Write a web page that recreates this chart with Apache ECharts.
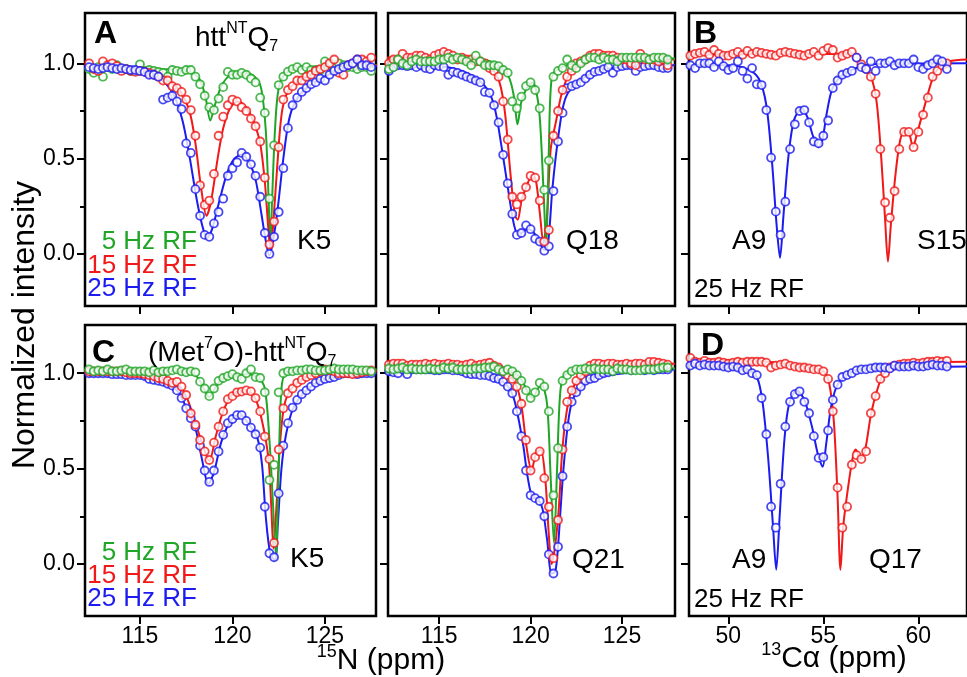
<!DOCTYPE html>
<html>
<head>
<meta charset="utf-8">
<script src="https://cdn.jsdelivr.net/npm/echarts@6/dist/echarts.min.js"></script>
<style>
  html, body { margin: 0; padding: 0; background: #fff; }
  #chart { width: 967px; height: 677px; }
</style>
</head>
<body>
<div id="chart"></div>
<script>
// ---- saturation offsets (ppm) ----
const n15Offsets = [
  112.25, 112.5, 112.75, 113, 113.25, 113.5, 113.75, 114, 114.25, 114.5, 114.75, 115,
  115.25, 115.5, 115.75, 116, 116.25, 116.5, 116.75, 117, 117.25, 117.5, 117.75, 118,
  118.25, 118.5, 118.75, 119, 119.25, 119.5, 119.75, 120, 120.25, 120.5, 120.75, 121,
  121.25, 121.5, 121.75, 122, 122.25, 122.5, 122.75, 123, 123.25, 123.5, 123.75, 124,
  124.25, 124.5, 124.75, 125, 125.25, 125.5, 125.75, 126, 126.25, 126.5, 126.75, 127,
  127.25, 127.5
];
const c13Offsets = [
  48, 48.25, 48.5, 48.75, 49, 49.25, 49.5, 49.75, 50, 50.25, 50.5, 50.75,
  51, 51.25, 51.5, 51.75, 52, 52.25, 52.5, 52.75, 53, 53.25, 53.5, 53.75,
  54, 54.25, 54.5, 54.75, 55, 55.25, 55.5, 55.75, 56, 56.25, 56.5, 56.75,
  57, 57.25, 57.5, 57.75, 58, 58.25, 58.5, 58.75, 59, 59.25, 59.5, 59.75,
  60, 60.25, 60.5, 60.75, 61, 61.25, 61.5
];

// ---- tick values ----
const n15Ticks = [115, 120, 125];
const c13Ticks = [50, 55, 60];
const intensityTicks = [0, 0.5, 1.0];
const intensityMinorTicks = [0.25, 0.75];

// ---- httNTQ7, K5 (15N) ----
const httK5_5Hz = [
  0.97, 0.95, 0.98, 0.93, 0.98, 0.97, 0.99, 0.97, 0.97, 0.96, 0.96, 0.995,
  0.96, 0.965, 0.96, 0.955, 0.95, 0.93, 0.965, 0.96, 0.955, 0.965, 0.965, 0.93,
  0.89, 0.83, 0.77, 0.755, 0.815, 0.875, 0.955, 0.94, 0.94, 0.95, 0.94, 0.92,
  0.90, 0.82, 0.74, 0.29, 0.57, 0.886, 0.93, 0.956, 0.97, 0.98, 0.965, 0.98,
  0.965, 0.965, 0.965, 1.01, 0.99, 0.98, 1.0, 0.99, 0.98, 0.98, 0.97, 0.98,
  0.98, 0.96
];
const httK5_15Hz = [
  1.0, 0.97, 0.96, 1.01, 0.99, 1.0, 0.985, 0.96, 0.97, 0.96, 0.955, 0.96,
  0.955, 0.95, 0.94, 0.93, 0.91, 0.91, 0.88, 0.87, 0.85, 0.81, 0.755, 0.62,
  0.36, 0.257, 0.28, 0.42, 0.62, 0.72, 0.78, 0.81, 0.80, 0.77, 0.75, 0.71,
  0.67, 0.59, 0.40, 0.05, 0.17, 0.56, 0.81, 0.86, 0.88, 0.91, 0.91, 0.93,
  0.94, 0.96, 0.97, 0.98, 1.0, 1.02, 0.95, 0.94, 0.99, 1.0, 1.02, 1.02,
  1.01, 1.03
];
const httK5_25Hz = [
  0.98, 0.975, 0.97, 0.975, 0.98, 0.975, 0.97, 0.975, 0.97, 0.965, 0.965, 0.96,
  0.955, 0.94, 0.94, 0.93, 0.81, 0.82, 0.83, 0.80, 0.76, 0.58, 0.53, 0.34,
  0.20, 0.10, 0.09, 0.16, 0.22, 0.29, 0.41, 0.45, 0.48, 0.53, 0.51, 0.47,
  0.41, 0.30, 0.11, 0.0, 0.09, 0.22, 0.45, 0.66, 0.78, 0.82, 0.85, 0.87,
  0.89, 0.90, 0.92, 0.91, 0.94, 0.96, 0.97, 0.98, 0.99, 1.0, 1.02, 0.99,
  0.99, 0.98
];
const httK5_5HzFit = [[112,0.975],[114,0.975],[116,0.97],[117.5,0.96],[118.2,0.92],[118.55,0.82],[118.8,0.70],[119.05,0.78],[119.4,0.88],[119.9,0.94],[120.6,0.95],[121.2,0.93],[121.55,0.87],[121.8,0.65],[121.95,0.3],[122.05,0.04],[122.15,0.3],[122.3,0.65],[122.5,0.87],[122.9,0.95],[123.8,0.975],[125,0.985],[127.8,0.99]];
const httK5_15HzFit = [[112,0.99],[114,0.975],[115.5,0.95],[116.5,0.91],[117.2,0.85],[117.7,0.74],[118.0,0.58],[118.3,0.35],[118.6,0.2],[118.85,0.28],[119.2,0.5],[119.5,0.66],[119.9,0.77],[120.3,0.8],[120.8,0.76],[121.2,0.68],[121.5,0.58],[121.75,0.38],[121.95,0.12],[122.06,0.02],[122.2,0.15],[122.45,0.5],[122.7,0.76],[123.1,0.87],[123.8,0.92],[124.8,0.96],[126,0.985],[127.8,0.99]];
const httK5_25HzFit = [[112,0.98],[114,0.975],[115.3,0.955],[116.2,0.91],[116.8,0.84],[117.3,0.7],[117.7,0.5],[118.1,0.27],[118.45,0.12],[118.65,0.09],[118.9,0.13],[119.3,0.28],[119.7,0.42],[120.1,0.5],[120.5,0.52],[120.9,0.48],[121.25,0.39],[121.55,0.22],[121.8,0.07],[122.0,-0.01],[122.2,0.07],[122.45,0.24],[122.75,0.5],[123.05,0.7],[123.4,0.8],[124,0.87],[125,0.93],[126,0.97],[127.8,0.985]];

// ---- httNTQ7, Q18 (15N) ----
const httQ18_5Hz = [
  0.97, 0.98, 1.02, 1.0, 0.99, 1.01, 1.02, 1.01, 1.01, 1.01, 1.01, 1.02,
  1.02, 1.03, 1.02, 1.03, 1.02, 1.01, 0.99, 1.04, 1.01, 0.99, 0.99, 0.99,
  0.985, 0.965, 0.95, 0.80, 0.764, 0.825, 0.88, 0.90, 0.86, 0.764, 0.336, 0.49,
  0.93, 0.96, 0.975, 1.02, 0.99, 0.975, 1.0, 1.02, 1.03, 1.03, 1.02, 1.03,
  1.02, 1.02, 1.01, 1.03, 1.03, 1.03, 1.03, 1.03, 1.03, 1.02, 1.03, 1.03,
  1.03, 1.02
];
const httQ18_15Hz = [
  1.0, 1.02, 1.02, 1.05, 1.03, 1.03, 1.04, 1.04, 1.03, 1.02, 1.04, 1.05,
  1.06, 1.05, 1.04, 1.02, 1.03, 1.02, 1.02, 1.01, 1.01, 1.0, 0.975, 0.96,
  0.93, 0.80, 0.60, 0.30, 0.26, 0.30, 0.35, 0.41, 0.40, 0.28, 0.065, 0.126,
  0.62, 0.75, 0.86, 0.93, 0.96, 1.0, 1.01, 1.02, 1.04, 1.05, 1.05, 1.04,
  1.04, 1.04, 1.03, 1.02, 1.02, 1.0, 0.99, 1.05, 1.02, 1.02, 1.02, 1.01,
  1.02, 0.99
];
const httQ18_25Hz = [
  0.96, 0.98, 0.99, 0.99, 0.985, 0.99, 0.98, 0.99, 0.975, 0.97, 0.99, 0.985,
  0.98, 0.94, 0.955, 0.95, 0.94, 0.93, 0.92, 0.91, 0.90, 0.85, 0.845, 0.78,
  0.69, 0.52, 0.37, 0.21, 0.10, 0.11, 0.15, 0.13, 0.08, 0.065, 0.017, 0.04,
  0.33, 0.59, 0.74, 0.87, 0.88, 0.89, 0.90, 0.92, 0.94, 0.955, 0.96, 0.97,
  0.98, 0.95, 0.98, 0.985, 0.99, 0.99, 0.96, 0.98, 0.985, 0.99, 0.99, 0.98,
  0.975, 0.975
];
const httQ18_5HzFit = [[112,1.02],[117.3,1.02],[118.2,0.99],[118.8,0.93],[119.1,0.82],[119.28,0.68],[119.5,0.8],[119.8,0.87],[120.1,0.9],[120.3,0.86],[120.5,0.72],[120.7,0.35],[120.85,0.05],[121.0,0.55],[121.15,0.92],[121.5,0.97],[122.3,1.0],[123,1.02],[127.9,1.025]];
const httQ18_15HzFit = [[112,1.03],[117,1.02],[117.8,0.98],[118.3,0.9],[118.6,0.74],[118.9,0.42],[119.15,0.2],[119.3,0.18],[119.5,0.28],[119.8,0.36],[120.1,0.42],[120.3,0.38],[120.5,0.22],[120.7,0.06],[120.9,0.2],[121.1,0.55],[121.4,0.7],[121.7,0.84],[122.1,0.94],[122.8,1.0],[123.5,1.03],[127.9,1.02]];
const httQ18_25HzFit = [[112,0.99],[115,0.985],[116.5,0.95],[117.5,0.88],[118.0,0.78],[118.4,0.57],[118.8,0.32],[119.1,0.15],[119.35,0.1],[119.8,0.13],[120.1,0.12],[120.45,0.07],[120.75,0.02],[120.95,0.05],[121.2,0.35],[121.55,0.64],[121.85,0.8],[122.3,0.88],[123,0.93],[124,0.97],[127.9,0.99]];

// ---- httNTQ7, 13Ca at 25 Hz: A9 and S15 ----
const httA9 = [
  0.99, 0.975, 1.0, 1.0, 1.0, 0.98, 1.01, 0.985, 0.965, 0.975, 1.01, 0.96,
  0.92, 0.975, 0.89, 0.886, 0.755, 0.505, 0.222, 0.10, 0.274, 0.55, 0.68, 0.75,
  0.755, 0.69, 0.59, 0.58, 0.62, 0.70, 0.87, 0.91, 0.94, 0.95, 0.96, 1.03,
  0.98, 0.97, 1.01, 0.96, 1.0, 1.0, 1.01, 0.99, 1.0, 1.0, 1.0, 1.02,
  0.98, 0.97, 0.99, 1.0, 1.02, 1.01, 0.97
];
const httS15 = [
  1.04, 1.05, 1.055, 1.06, 1.045, 1.07, 1.05, 1.04, 1.04, 1.05, 1.06, 1.045,
  1.065, 1.05, 1.06, 1.055, 1.05, 1.045, 1.04, 1.055, 1.06, 1.055, 1.05, 1.045,
  1.04, 1.05, 1.06, 1.04, 1.065, 1.08, 1.07, 1.03, 1.04, 1.05, 1.06, 1.03,
  0.995, 0.97, 0.93, 0.84, 0.55, 0.27, 0.19, 0.33, 0.55, 0.64, 0.64, 0.56,
  0.64, 0.73, 0.82, 0.93, 0.96, 0.99, 1.0
];
const httA9Fit = [[47.9,0.99],[50,0.99],[51,0.97],[51.6,0.92],[52.0,0.78],[52.3,0.48],[52.55,0.14],[52.72,-0.02],[52.9,0.2],[53.15,0.5],[53.45,0.7],[53.85,0.76],[54.15,0.72],[54.45,0.62],[54.75,0.56],[54.95,0.6],[55.2,0.75],[55.45,0.86],[55.9,0.93],[56.6,0.97],[57.5,0.995],[62.6,1.0]];
const httS15Fit = [[47.9,1.045],[56.6,1.05],[57.0,1.0],[57.5,0.93],[57.8,0.8],[58.05,0.5],[58.25,0.18],[58.4,-0.04],[58.55,0.15],[58.8,0.42],[59.05,0.6],[59.3,0.65],[59.5,0.64],[59.72,0.56],[59.9,0.62],[60.15,0.71],[60.45,0.82],[60.75,0.92],[61.1,0.98],[61.6,1.01],[62.6,1.02]];

// ---- (Met7O)-httNTQ7, K5 (15N) ----
const metK5_5Hz = [
  1.02, 1.01, 1.015, 1.01, 1.02, 1.01, 1.01, 1.015, 1.02, 1.01, 1.01, 1.01,
  1.01, 1.005, 1.015, 1.005, 1.01, 1.01, 1.015, 1.02, 1.01, 1.005, 1.01, 1.005,
  0.956, 0.92, 0.88, 0.92, 0.96, 0.975, 0.985, 0.995, 0.98, 0.97, 1.0, 1.02,
  0.98, 0.975, 0.90, 0.44, 0.52, 0.90, 1.0, 1.01, 1.01, 1.015, 1.015, 1.02,
  1.02, 1.015, 1.015, 1.015, 1.02, 1.025, 1.02, 1.02, 1.02, 1.02, 1.015, 1.015,
  1.015, 1.01
];
const metK5_15Hz = [
  1.01, 1.01, 1.01, 1.01, 1.01, 1.01, 1.01, 1.01, 1.005, 1.0, 1.0, 1.0,
  0.995, 0.99, 0.985, 0.975, 0.97, 0.96, 0.95, 0.955, 0.93, 0.886, 0.79, 0.73,
  0.65, 0.59, 0.545, 0.636, 0.72, 0.80, 0.864, 0.88, 0.90, 0.904, 0.91, 0.905,
  0.87, 0.80, 0.668, 0.55, 0.11, 0.60, 0.816, 0.895, 0.92, 0.95, 0.965, 0.98,
  0.99, 1.0, 1.01, 1.02, 1.015, 1.01, 1.0, 1.0, 1.0, 0.995, 1.0, 1.005,
  1.01, 1.015
];
const metK5_25Hz = [
  1.0, 1.0, 1.0, 1.0, 1.0, 0.995, 0.995, 0.995, 0.99, 0.99, 0.99, 0.99,
  0.985, 0.97, 0.965, 0.96, 0.955, 0.945, 0.935, 0.91, 0.87, 0.816, 0.764, 0.72,
  0.62, 0.49, 0.43, 0.49, 0.59, 0.677, 0.738, 0.76, 0.78, 0.78, 0.75, 0.715,
  0.68, 0.61, 0.30, 0.056, 0.035, 0.37, 0.62, 0.738, 0.82, 0.86, 0.89, 0.91,
  0.93, 0.95, 0.96, 0.97, 0.975, 0.98, 0.99, 1.0, 1.0, 1.0, 0.995, 1.0,
  1.0, 1.0
];
const metK5_5HzFit = [[112,1.02],[117.6,1.01],[118.1,0.98],[118.45,0.92],[118.75,0.875],[119.05,0.92],[119.4,0.965],[120,0.985],[120.8,0.995],[121.4,0.975],[121.75,0.92],[122.0,0.65],[122.2,0.3],[122.35,0.04],[122.5,0.5],[122.65,0.92],[122.9,1.0],[124,1.015],[127.8,1.02]];
const metK5_15HzFit = [[112,1.01],[114.5,1.0],[116,0.975],[117,0.945],[117.5,0.88],[118,0.74],[118.4,0.62],[118.75,0.54],[119.1,0.67],[119.5,0.8],[120,0.89],[120.7,0.91],[121.2,0.875],[121.6,0.75],[121.95,0.55],[122.1,0.3],[122.22,0.08],[122.35,0.25],[122.55,0.6],[122.8,0.83],[123.2,0.92],[124,0.98],[125,1.01],[127.8,1.01]];
const metK5_25HzFit = [[112,1.0],[114.5,0.99],[116,0.96],[117,0.91],[117.5,0.82],[118,0.71],[118.35,0.55],[118.7,0.42],[119,0.48],[119.4,0.64],[119.9,0.75],[120.4,0.785],[120.9,0.73],[121.35,0.66],[121.6,0.52],[121.8,0.25],[122.05,0.05],[122.3,0.02],[122.45,0.2],[122.65,0.5],[122.9,0.68],[123.3,0.82],[124,0.91],[125,0.97],[127.8,1.0]];

// ---- (Met7O)-httNTQ7, Q21 (15N) ----
const metQ21_5Hz = [
  1.025, 1.02, 1.025, 1.03, 1.02, 1.025, 1.02, 1.02, 1.02, 1.025, 1.02, 1.02,
  1.03, 1.025, 1.03, 1.02, 1.02, 1.02, 1.02, 1.025, 1.025, 1.03, 1.03, 1.035,
  1.02, 1.01, 1.02, 1.01, 0.99, 0.96, 0.91, 0.87, 0.90, 0.95, 0.93, 0.80,
  0.36, 0.607, 0.96, 0.99, 1.01, 1.02, 1.02, 1.025, 1.02, 1.025, 1.02, 1.02,
  1.02, 1.01, 1.025, 1.02, 1.02, 1.015, 1.015, 1.015, 1.02, 1.02, 1.02, 1.025,
  1.03, 1.03
];
const metQ21_15Hz = [
  1.045, 1.05, 1.05, 1.05, 1.04, 1.045, 1.045, 1.045, 1.05, 1.045, 1.05, 1.045,
  1.045, 1.05, 1.045, 1.045, 1.04, 1.045, 1.05, 1.04, 1.045, 1.05, 1.055, 1.04,
  1.03, 1.01, 0.99, 0.97, 0.93, 0.84, 0.65, 0.49, 0.56, 0.59, 0.45, 0.30,
  0.03, 0.23, 0.60, 0.85, 0.91, 0.96, 0.99, 1.01, 1.04, 1.05, 1.05, 1.045,
  1.05, 1.05, 1.045, 1.045, 1.05, 1.045, 1.05, 1.05, 1.045, 1.06, 1.06, 1.055,
  1.05, 1.045
];
const metQ21_25Hz = [
  1.01, 1.005, 1.0, 1.02, 0.995, 1.02, 1.02, 1.02, 1.02, 1.02, 1.015, 1.015,
  1.02, 1.02, 1.015, 1.015, 1.01, 1.0, 0.995, 0.995, 0.99, 0.99, 0.985, 0.975,
  0.97, 0.955, 0.93, 0.895, 0.80, 0.67, 0.49, 0.36, 0.345, 0.33, 0.25, 0.05,
  -0.05, 0.09, 0.46, 0.72, 0.85, 0.90, 0.93, 0.96, 0.97, 0.975, 0.99, 1.0,
  1.005, 1.01, 1.015, 1.02, 1.02, 1.015, 1.02, 1.02, 1.015, 1.02, 1.015, 1.02,
  1.02, 1.02
];
const metQ21_5HzFit = [[112,1.025],[118,1.03],[118.8,1.01],[119.3,0.99],[119.6,0.95],[119.9,0.89],[120.1,0.87],[120.4,0.92],[120.6,0.94],[120.9,0.84],[121.1,0.45],[121.28,0.11],[121.45,0.5],[121.6,0.87],[121.8,0.98],[122.5,1.02],[127.9,1.025]];
const metQ21_15HzFit = [[112,1.045],[118,1.045],[118.7,1.0],[119.2,0.94],[119.5,0.83],[119.8,0.6],[120.05,0.49],[120.3,0.58],[120.55,0.6],[120.8,0.45],[121.0,0.15],[121.15,0.0],[121.35,0.1],[121.55,0.3],[121.7,0.55],[121.9,0.75],[122.2,0.9],[122.7,0.98],[123.3,1.04],[127.9,1.05]];
const metQ21_25HzFit = [[112,1.01],[116,1.015],[117.5,0.99],[118.5,0.955],[119,0.89],[119.3,0.78],[119.6,0.62],[119.85,0.45],[120.1,0.35],[120.4,0.34],[120.65,0.29],[120.9,0.13],[121.15,-0.05],[121.35,-0.04],[121.5,0.09],[121.65,0.3],[121.8,0.5],[122.05,0.74],[122.3,0.86],[122.8,0.93],[123.5,0.98],[127.9,1.02]];

// ---- (Met7O)-httNTQ7, 13Ca at 25 Hz: A9 and Q17 ----
const metA9 = [
  1.04, 1.05, 1.04, 1.045, 1.04, 1.04, 1.04, 1.035, 1.03, 1.035, 1.03, 1.015,
  1.02, 1.0, 0.99, 0.87, 0.68, 0.30, 0.19, 0.42, 0.72, 0.85, 0.89, 0.905,
  0.85, 0.79, 0.67, 0.556, 0.56, 0.70, 0.86, 0.94, 0.98, 0.99, 1.0, 1.015,
  1.02, 1.02, 1.025, 1.03, 1.03, 1.03, 1.025, 1.04, 1.035, 1.035, 1.035, 1.04,
  1.035, 1.035, 1.04, 1.045, 1.04, 1.04, 1.035
];
const metQ17 = [
  1.08, 1.06, 1.055, 1.065, 1.055, 1.055, 1.06, 1.055, 1.05, 1.055, 1.06, 1.055,
  1.06, 1.06, 1.06, 1.06, 1.055, 1.03, 1.04, 1.045, 1.05, 1.04, 1.035, 1.03,
  1.03, 1.025, 1.02, 1.02, 1.01, 0.97, 0.80, 0.40, 0.19, 0.30, 0.52, 0.57,
  0.55, 0.59, 0.79, 0.88, 0.97, 1.0, 1.03, 1.04, 1.045, 1.05, 1.05, 1.055,
  1.05, 1.055, 1.06, 1.06, 1.065, 1.06, 1.065
];
const metA9Fit = [[47.9,1.045],[50,1.035],[51,1.02],[51.5,0.98],[51.8,0.85],[52.1,0.55],[52.35,0.2],[52.52,-0.03],[52.7,0.25],[52.95,0.65],[53.2,0.84],[53.6,0.91],[54.0,0.86],[54.4,0.72],[54.7,0.58],[54.96,0.51],[55.15,0.63],[55.4,0.82],[55.7,0.93],[56.2,0.99],[57,1.02],[62.6,1.035]];
const metQ17Fit = [[47.9,1.07],[52,1.06],[54,1.035],[55.0,1.01],[55.3,0.95],[55.55,0.75],[55.75,0.35],[55.9,-0.03],[56.05,0.2],[56.3,0.4],[56.55,0.56],[56.7,0.6],[56.95,0.55],[57.2,0.6],[57.5,0.78],[57.8,0.9],[58.2,1.0],[59,1.045],[62.6,1.06]];

// ---- styling ----
const FONT = '"Liberation Sans", Arial, Helvetica, sans-serif';
const GREEN = '#1fa626';
const RED = '#f01818';
const BLUE = '#1c1cf0';

const panels = [
  { box: { left: 85, top: 13, width: 291, height: 293 }, xr: [112.03, 127.76], yr: [-0.273, 1.264],
    ticks: n15Ticks, xLabels: false, yLabels: true,
    traces: [
      { c: GREEN, x: n15Offsets, y: httK5_5Hz, fit: httK5_5HzFit },
      { c: RED, x: n15Offsets, y: httK5_15Hz, fit: httK5_15HzFit },
      { c: BLUE, x: n15Offsets, y: httK5_25Hz, fit: httK5_25HzFit }
    ] },
  { box: { left: 388, top: 13, width: 287, height: 293 }, xr: [112.2, 127.9], yr: [-0.273, 1.264],
    ticks: n15Ticks, xLabels: false, yLabels: false,
    traces: [
      { c: BLUE, x: n15Offsets, y: httQ18_25Hz, fit: httQ18_25HzFit },
      { c: RED, x: n15Offsets, y: httQ18_15Hz, fit: httQ18_15HzFit },
      { c: GREEN, x: n15Offsets, y: httQ18_5Hz, fit: httQ18_5HzFit }
    ] },
  { box: { left: 689, top: 13, width: 300, height: 293 }, xr: [47.93, 62.56], yr: [-0.273, 1.264],
    ticks: c13Ticks, xLabels: false, yLabels: false,
    traces: [
      { c: RED, x: c13Offsets, y: httS15, fit: httS15Fit },
      { c: BLUE, x: c13Offsets, y: httA9, fit: httA9Fit }
    ] },
  { box: { left: 85, top: 325, width: 291, height: 291 }, xr: [112.03, 127.76], yr: [-0.273, 1.253],
    ticks: n15Ticks, xLabels: true, yLabels: true,
    traces: [
      { c: BLUE, x: n15Offsets, y: metK5_25Hz, fit: metK5_25HzFit },
      { c: RED, x: n15Offsets, y: metK5_15Hz, fit: metK5_15HzFit },
      { c: GREEN, x: n15Offsets, y: metK5_5Hz, fit: metK5_5HzFit }
    ] },
  { box: { left: 388, top: 325, width: 287, height: 291 }, xr: [112.2, 127.9], yr: [-0.273, 1.253],
    ticks: n15Ticks, xLabels: true, yLabels: false,
    traces: [
      { c: BLUE, x: n15Offsets, y: metQ21_25Hz, fit: metQ21_25HzFit },
      { c: RED, x: n15Offsets, y: metQ21_15Hz, fit: metQ21_15HzFit },
      { c: GREEN, x: n15Offsets, y: metQ21_5Hz, fit: metQ21_5HzFit }
    ] },
  { box: { left: 689, top: 324, width: 300, height: 292 }, xr: [47.93, 62.56], yr: [-0.273, 1.258],
    ticks: c13Ticks, xLabels: true, yLabels: false,
    traces: [
      { c: RED, x: c13Offsets, y: metQ17, fit: metQ17Fit },
      { c: BLUE, x: c13Offsets, y: metA9, fit: metA9Fit }
    ] }
];

const grids = [], xAxes = [], yAxes = [], fitSeries = [], pointSeries = [];
panels.forEach((p, i) => {
  grids.push(Object.assign({ show: true, borderColor: '#000', borderWidth: 2.5, backgroundColor: 'transparent' }, p.box));
  xAxes.push({
    gridIndex: i, type: 'value', position: 'bottom', min: p.xr[0], max: p.xr[1],
    axisLine: { show: false, onZero: false }, splitLine: { show: false },
    axisTick: { show: true, inside: false, length: 8, lineStyle: { color: '#000', width: 2 }, customValues: p.ticks },
    axisLabel: { show: p.xLabels, customValues: p.ticks, margin: 9, fontSize: 23, color: '#000', fontFamily: FONT,
                 formatter: v => String(Math.round(v)) }
  });
  yAxes.push({
    gridIndex: i, type: 'value', position: 'left', min: p.yr[0], max: p.yr[1],
    axisLine: { show: false, onZero: false }, splitLine: { show: false },
    axisTick: { show: true, inside: false, length: 8, lineStyle: { color: '#000', width: 2 }, customValues: intensityTicks },
    axisLabel: { show: p.yLabels, customValues: intensityTicks, margin: 10, fontSize: 23, color: '#000', fontFamily: FONT,
                 formatter: v => v.toFixed(1) }
  });
  yAxes.push({
    gridIndex: i, type: 'value', position: 'left', min: p.yr[0], max: p.yr[1],
    axisLine: { show: false, onZero: false }, splitLine: { show: false },
    axisTick: { show: true, inside: false, length: 5, lineStyle: { color: '#000', width: 2 }, customValues: intensityMinorTicks },
    axisLabel: { show: false }
  });
  p.traces.forEach(t => {
    fitSeries.push({
      type: 'line', xAxisIndex: i, yAxisIndex: 2 * i, data: t.fit, showSymbol: false, symbol: 'none',
      smooth: 0.3, lineStyle: { color: t.c, width: 2 }, z: 2, silent: true
    });
    pointSeries.push({
      type: 'scatter', xAxisIndex: i, yAxisIndex: 2 * i, data: t.x.map((v, k) => [v, t.y[k]]),
      symbol: 'circle', symbolSize: 8,
      itemStyle: { color: '#fff', borderColor: t.c, borderWidth: 1.8 }, z: 3, silent: true
    });
  });
});

// ---- text annotations ----
function txt(x, y, text, opt) {
  opt = opt || {};
  const style = {
    text: text, x: x, y: y, fill: opt.fill || '#000',
    font: (opt.bold ? 'bold ' : '') + (opt.size || 28) + 'px ' + FONT,
    align: opt.align || 'left', verticalAlign: 'middle',
    textAlign: opt.align || 'left', textVerticalAlign: 'middle'
  };
  if (opt.rich) style.rich = opt.rich;
  return { type: 'text', z: 100, rotation: opt.rotation || 0, x: 0, y: 0, style: style, silent: true };
}
const titleRich = {
  n: { fontSize: 28, fontFamily: FONT, lineHeight: 34, fill: '#000' },
  sup: { fontSize: 16, fontFamily: FONT, lineHeight: 27, verticalAlign: 'top', fill: '#000' },
  sub: { fontSize: 16, fontFamily: FONT, lineHeight: 16, verticalAlign: 'bottom', fill: '#000' }
};
const axisRich = {
  n: { fontSize: 30, fontFamily: FONT, lineHeight: 36, fill: '#000' },
  sup: { fontSize: 18, fontFamily: FONT, lineHeight: 18, verticalAlign: 'top', fill: '#000' }
};

const graphics = [
  txt(94, 34, 'A', { bold: true, size: 32 }),
  txt(694, 34, 'B', { bold: true, size: 32 }),
  txt(92, 353, 'C', { bold: true, size: 32 }),
  txt(701, 346, 'D', { bold: true, size: 32 }),
  txt(195, 38, '{n|htt}{sup|NT}{n|Q}{sub|7}', { rich: titleRich }),
  txt(148, 353, '{n|(Met}{sup|7}{n|O)-htt}{sup|NT}{n|Q}{sub|7}', { rich: titleRich }),
  txt(297, 241, 'K5'),
  txt(566, 241, 'Q18'),
  txt(732, 241, 'A9'),
  txt(917, 241, 'S15'),
  txt(290, 559, 'K5'),
  txt(572, 560, 'Q21'),
  txt(732, 560, 'A9'),
  txt(869, 560, 'Q17'),
  txt(197, 242, '5 Hz RF', { fill: GREEN, size: 26, align: 'right' }),
  txt(197, 266, '15 Hz RF', { fill: RED, size: 26, align: 'right' }),
  txt(197, 289, '25 Hz RF', { fill: BLUE, size: 26, align: 'right' }),
  txt(197, 553, '5 Hz RF', { fill: GREEN, size: 26, align: 'right' }),
  txt(197, 576, '15 Hz RF', { fill: RED, size: 26, align: 'right' }),
  txt(197, 599, '25 Hz RF', { fill: BLUE, size: 26, align: 'right' }),
  txt(694, 290, '25 Hz RF', { size: 26 }),
  txt(694, 600, '25 Hz RF', { size: 26 }),
  txt(381, 661, '{sup|15}{n|N (ppm)}', { rich: axisRich, align: 'center' }),
  txt(834, 659, '{sup|13}{n|C\u03b1 (ppm)}', { rich: axisRich, align: 'center' })
];
// vertical axis title
graphics.push({
  type: 'text', z: 100, x: 25, y: 325, rotation: Math.PI / 2, silent: true,
  style: { text: 'Normalized intensity', font: '32px ' + FONT, fill: '#000',
           align: 'center', verticalAlign: 'middle', textAlign: 'center', textVerticalAlign: 'middle' }
});

const chart = echarts.init(document.getElementById('chart'), null, { renderer: 'canvas' });
chart.setOption({
  backgroundColor: '#fff',
  animation: false,
  grid: grids,
  xAxis: xAxes,
  yAxis: yAxes,
  series: fitSeries.concat(pointSeries),
  graphic: graphics
});
</script>
</body>
</html>
